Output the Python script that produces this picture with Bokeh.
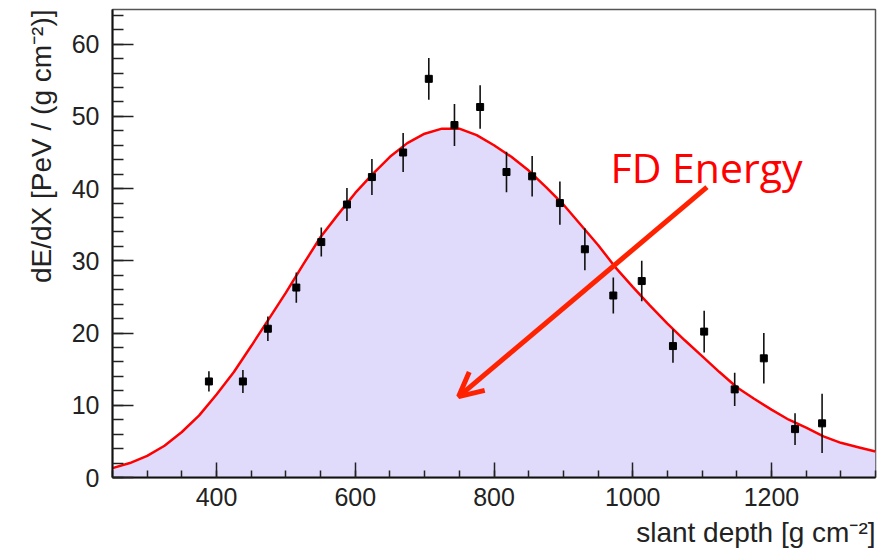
from bokeh.plotting import figure
from bokeh.models import Range1d, Label, Arrow, OpenHead, SingleIntervalTicker, Title
from bokeh.embed import file_html
from bokeh.resources import INLINE

# ---- data ----
depth = [389, 438, 474, 515, 551, 588, 624, 669, 706, 743, 780, 818, 855, 895, 931,
         972, 1013, 1058, 1103, 1147, 1189, 1234, 1273]
dedx = [13.3, 13.3, 20.6, 26.3, 32.6, 37.8, 41.6, 45.0, 55.2, 48.8, 51.3, 42.3, 41.7,
        38.0, 31.6, 25.2, 27.2, 18.2, 20.2, 12.2, 16.5, 6.7, 7.5]
dedx_err = [1.4, 1.6, 1.7, 2.1, 2.0, 2.3, 2.5, 2.7, 2.9, 2.9, 3.0, 2.8, 2.8,
            3.0, 2.9, 2.5, 2.8, 2.3, 2.9, 2.3, 3.5, 2.2, 4.1]

fit_x = [250, 275, 300, 325, 350, 375, 400, 425, 450, 475, 500, 525, 550, 575, 600,
         625, 650, 675, 700, 725, 750, 775, 800, 825, 850, 875, 900, 925, 950, 975,
         1000, 1025, 1050, 1075, 1100, 1125, 1150, 1175, 1200, 1225, 1250, 1275,
         1300, 1325, 1350]
fit_y = [1.3, 2.0, 3.0, 4.4, 6.3, 8.6, 11.5, 14.6, 18.2, 21.9, 25.6, 29.5, 33.3, 36.4,
         39.4, 42.0, 44.4, 46.3, 47.6, 48.3, 48.3, 47.4, 46.0, 44.4, 42.5, 40.2, 37.8,
         35.0, 32.2, 29.1, 26.4, 23.8, 21.3, 19.0, 16.8, 14.6, 12.5, 10.9, 9.4, 8.0,
         6.9, 5.7, 4.8, 4.2, 3.6]

x_title = "slant depth [g cm\u207b\u00b2]"
y_title = "dE/dX [PeV / (g cm\u207b\u00b2)]"
annotation_text = "FD Energy"

p = figure(width=891, height=555, output_backend="svg", toolbar_location=None,
           x_range=Range1d(250, 1350), y_range=Range1d(0, 64.8),
           min_border_left=112, min_border_right=16, min_border_top=9,
           min_border_bottom=78)

p.xgrid.visible = False
p.ygrid.visible = False
p.outline_line_color = "#555555"
p.outline_line_width = 1.5
p.background_fill_color = "white"
p.border_fill_color = "white"

# fit area + curve
p.varea(x=fit_x, y1=[0] * len(fit_x), y2=fit_y, fill_color="#E0DBFA")
p.line(fit_x, fit_y, line_color="#FF0000", line_width=2.5)

# error bars + points
lo = [v - e for v, e in zip(dedx, dedx_err)]
hi = [v + e for v, e in zip(dedx, dedx_err)]
p.segment(x0=depth, y0=lo, x1=depth, y1=hi, line_color="#111111", line_width=1.6)
p.scatter(depth, dedx, marker="square", size=7, color="black")

# annotation
p.add_layout(Arrow(end=OpenHead(size=24, line_color="#FF2200", line_width=5),
                   x_start=1107, y_start=40.2, x_end=749, y_end=11.2,
                   line_color="#FF2200", line_width=5))
p.add_layout(Label(x=968, y=43.0, text=annotation_text, text_color="#FF0000",
                   text_font="Open Sans", text_font_size="41px",
                   text_baseline="alphabetic"))

# axes
for ax in (p.xaxis[0], p.yaxis[0]):
    ax.axis_line_color = "#111111"
    ax.axis_line_width = 2
    ax.major_tick_line_color = "#222222"
    ax.minor_tick_line_color = "#222222"
    ax.major_tick_line_width = 1.5
    ax.minor_tick_line_width = 1.5
    ax.major_tick_out = 0
    ax.minor_tick_out = 0
    ax.major_label_text_font = "Liberation Sans"
    ax.major_label_text_font_size = "25px"
    ax.major_label_text_color = "#222222"

p.xaxis.ticker = SingleIntervalTicker(interval=200, num_minor_ticks=4)
p.yaxis.ticker = SingleIntervalTicker(interval=10, num_minor_ticks=5)
p.xaxis.major_tick_in = 15
p.xaxis.minor_tick_in = 7
p.yaxis.major_tick_in = 21
p.yaxis.minor_tick_in = 11
p.xaxis.major_label_standoff = 10
p.yaxis.major_label_standoff = 13

# axis titles, right/top aligned as in the reference
p.add_layout(Title(text=x_title, align="right", text_font="Liberation Sans",
                   text_font_size="28px", text_font_style="normal",
                   text_color="#222222", standoff=12, offset=0), "below")
p.add_layout(Title(text=y_title, align="right", text_font="Liberation Sans",
                   text_font_size="28px", text_font_style="normal",
                   text_color="#222222", standoff=24, offset=0), "left")

open("out.html", "w").write(file_html(p, INLINE))
